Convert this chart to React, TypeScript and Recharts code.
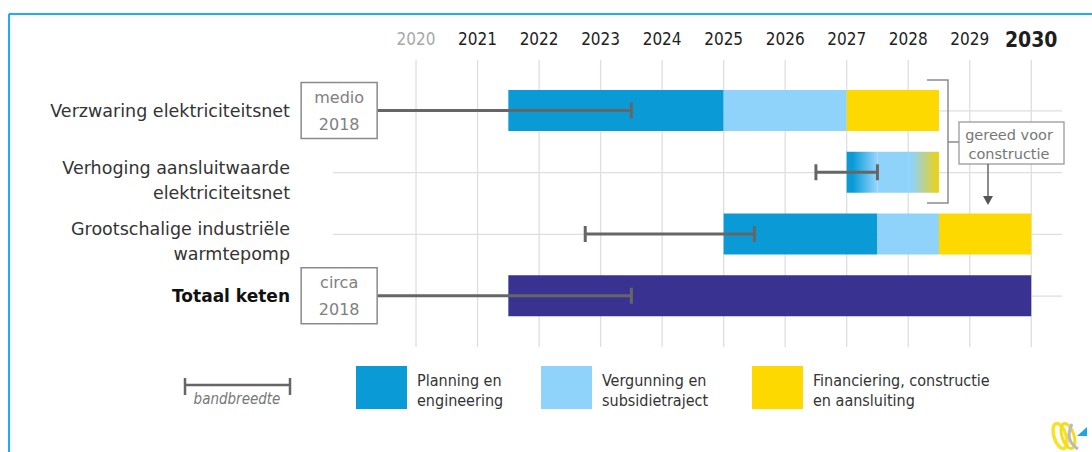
import { ComposedChart, Bar, XAxis, YAxis, CartesianGrid, Cell } from "recharts";

const BLUE = "#0a9bd7";
const LIGHT_BLUE = "#8fd2fa";
const YELLOW = "#fed900";
const PURPLE = "#3a3291";
const WHISKER = "#666666";
const GRID = "#dedede";
const FRAME = "#1cb0ee";
const SANS = "DejaVu Sans";
const NARROW = "DejaVu Sans Condensed";

type Range = [number, number] | null;

const categories = [
  "Verzwaring elektriciteitsnet",
  "Verhoging aansluitwaarde\nelektriciteitsnet",
  "Grootschalige industriële\nwarmtepomp",
  "Totaal keten",
];

// segments per row, in years [start, end]
const planning: Range[] = [[2021.5, 2025], [2027, 2027.5], [2025, 2027.5], null];
const vergunning: Range[] = [[2025, 2027], [2027.5, 2028], [2027.5, 2028.5], null];
const financiering: Range[] = [[2027, 2028.5], [2028, 2028.5], [2028.5, 2030], null];
const totaal: Range[] = [null, null, null, [2021.5, 2030]];

// bandbreedte (range of start moment)
const bandbreedte: Range[] = [[2018.75, 2023.5], [2026.5, 2027.5], [2022.75, 2025.5], [2018.75, 2023.5]];
const startBoxes = ["medio\n2018", "", "", "circa\n2018"];

const years = [2020, 2021, 2022, 2023, 2024, 2025, 2026, 2027, 2028, 2029, 2030];

const legendItems = [
  { label: "Planning en\nengineering", color: BLUE },
  { label: "Vergunning en\nsubsidietraject", color: LIGHT_BLUE },
  { label: "Financiering, constructie\nen aansluiting", color: YELLOW },
];

const data = categories.map((name, i) => ({
  name,
  planning: planning[i],
  vergunning: vergunning[i],
  financiering: financiering[i],
  totaal: totaal[i],
  bandbreedte: bandbreedte[i],
  box: startBoxes[i],
}));

function YearTick({ x, payload }: any) {
  const v = payload.value;
  const isLast = v === years[years.length - 1];
  const isFirst = v === years[0];
  return (
    <text
      x={x}
      y={isLast ? 47 : 45}
      textAnchor="middle"
      fontFamily={NARROW}
      fontSize={isLast ? 21 : 17}
      fontWeight={isLast ? "bold" : "normal"}
      fill={isFirst ? "#a8a8a8" : "#1e1e1e"}
    >
      {v}
    </text>
  );
}

function RowTick({ y, payload }: any) {
  const lines = String(payload.value).split("\n");
  const bold = payload.value === "Totaal keten";
  const base = lines.length > 1 ? y + 1 : y + 6;
  return (
    <text
      textAnchor="end"
      fontFamily={SANS}
      fontSize={bold ? 17 : 17.5}
      fontWeight={bold ? "bold" : "normal"}
      fill={bold ? "#111" : "#333"}
    >
      {lines.map((l, i) => (
        <tspan key={i} x={290} y={base + i * 25}>
          {l}
        </tspan>
      ))}
    </text>
  );
}

function Whisker(props: any) {
  const { x, y, width, height, payload } = props;
  if (x == null || !payload || !payload.bandbreedte) return null;
  const cy = y + height / 2;
  const x2 = x + width;
  const box: string = payload.box;
  return (
    <g>
      <line x1={x} x2={x2} y1={cy} y2={cy} stroke={WHISKER} strokeWidth={3} />
      <line x1={x2} x2={x2} y1={cy - 8} y2={cy + 8} stroke={WHISKER} strokeWidth={3} />
      {box ? (
        <g>
          <rect x={x - 38} y={cy - 28} width={76} height={56} fill="#fff" stroke="#8a8a8a" strokeWidth={1.5} />
          {box.split("\n").map((l, i) => (
            <text
              key={i}
              x={x}
              y={cy - 8 + i * 27}
              textAnchor="middle"
              fontFamily={SANS}
              fontSize={16}
              fill="#808080"
            >
              {l}
            </text>
          ))}
        </g>
      ) : (
        <line x1={x} x2={x} y1={cy - 8} y2={cy + 8} stroke={WHISKER} strokeWidth={3} />
      )}
    </g>
  );
}

export default function App() {
  return (
    <div
      style={{
        position: "fixed",
        left: 0,
        top: 0,
        width: 1092,
        height: 452,
        background: "#fff",
        fontFamily: SANS,
      }}
    >
      <ComposedChart
        width={1092}
        height={352}
        data={data}
        layout="vertical"
        margin={{ top: 0, right: 30, bottom: 5, left: 0 }}
        barSize={41}
        barGap={-41}
      >
        <defs>
          <linearGradient id="fadePlan" x1="0" x2="1" y1="0" y2="0">
            <stop offset="0%" stopColor={BLUE} />
            <stop offset="20%" stopColor={BLUE} />
            <stop offset="95%" stopColor={LIGHT_BLUE} />
          </linearGradient>
          <linearGradient id="fadeFin" x1="0" x2="1" y1="0" y2="0">
            <stop offset="0%" stopColor={LIGHT_BLUE} />
            <stop offset="12%" stopColor={LIGHT_BLUE} />
            <stop offset="100%" stopColor="#efd20e" />
          </linearGradient>
        </defs>
        <CartesianGrid stroke={GRID} strokeWidth={1.3} syncWithTicks />
        <XAxis
          type="number"
          orientation="top"
          domain={[2018.65, 2030.5]}
          ticks={years}
          interval={0}
          height={60}
          axisLine={false}
          tickLine={false}
          tick={(p: any) => <YearTick {...p} />}
        />
        <YAxis
          type="category"
          dataKey="name"
          width={333}
          padding={{ top: 20, bottom: 20 }}
          axisLine={false}
          tickLine={false}
          interval={0}
          tick={(p: any) => <RowTick {...p} />}
        />
        <Bar dataKey="planning" fill={BLUE} isAnimationActive={false}>
          {data.map((d, i) => (
            <Cell key={d.name} fill={i === 1 ? "url(#fadePlan)" : BLUE} />
          ))}
        </Bar>
        <Bar dataKey="vergunning" fill={LIGHT_BLUE} isAnimationActive={false} />
        <Bar dataKey="financiering" fill={YELLOW} isAnimationActive={false}>
          {data.map((d, i) => (
            <Cell key={d.name} fill={i === 1 ? "url(#fadeFin)" : YELLOW} />
          ))}
        </Bar>
        <Bar dataKey="totaal" fill={PURPLE} isAnimationActive={false} />
        <Bar dataKey="bandbreedte" fill="none" isAnimationActive={false} shape={(p: any) => <Whisker {...p} />} />
      </ComposedChart>

      <svg
        width={1092}
        height={452}
        style={{ position: "absolute", left: 0, top: 0, pointerEvents: "none" }}
      >
        {/* frame */}
        <line x1={9} x2={1092} y1={14} y2={14} stroke={FRAME} strokeWidth={2} />
        <line x1={9} x2={9} y1={14} y2={452} stroke={FRAME} strokeWidth={2} />

        {/* annotation: gereed voor constructie */}
        <path d="M927,80 H948 V203 H927 M948,142 H959" fill="none" stroke="#8c8c8c" strokeWidth={1.5} />
        <rect x={959} y={122} width={105} height={42} fill="#fff" stroke="#9a9a9a" strokeWidth={1.3} />
        <text x={1009} y={140} textAnchor="middle" fontFamily={SANS} fontSize={14.5} fill="#777">
          gereed voor
        </text>
        <text x={1009} y={159} textAnchor="middle" fontFamily={SANS} fontSize={14.5} fill="#777">
          constructie
        </text>
        <line x1={988} x2={988} y1={164} y2={197} stroke="#666" strokeWidth={1.5} />
        <path d="M983,196 L993,196 L988,205 Z" fill="#555" />

        {/* legend */}
        <line x1={185} x2={290} y1={385} y2={385} stroke={WHISKER} strokeWidth={2.5} />
        <line x1={185} x2={185} y1={378} y2={395} stroke={WHISKER} strokeWidth={2.5} />
        <line x1={290} x2={290} y1={378} y2={395} stroke={WHISKER} strokeWidth={2.5} />
        <text x={237} y={404} textAnchor="middle" fontFamily={NARROW} fontSize={15} fontStyle="italic" fill="#777">
          bandbreedte
        </text>
        {legendItems.map((item, i) => {
          const lx = [356, 541, 752][i];
          return (
            <g key={item.label}>
              <rect x={lx} y={366} width={51} height={43} fill={item.color} />
              {item.label.split("\n").map((l, j) => (
                <text key={j} x={lx + 61} y={386 + j * 20} fontFamily={NARROW} fontSize={16} fill="#333">
                  {l}
                </text>
              ))}
            </g>
          );
        })}

        {/* logo */}
        <g>
          <ellipse cx={1060} cy={436} rx={6} ry={13} fill="none" stroke="#f6e227" strokeWidth={3.5} transform="rotate(-18 1060 436)" />
          <ellipse cx={1068} cy={436} rx={6} ry={13} fill="none" stroke="#f3dc1c" strokeWidth={3} transform="rotate(-18 1068 436)" />
          <path d="M1072,424 Q1064,440 1078,449" fill="none" stroke="#b9b9c4" strokeWidth={3} />
          <path d="M1077,436 L1087,427 L1087,436 Z" fill="#1ea5e2" />
        </g>
      </svg>
    </div>
  );
}
